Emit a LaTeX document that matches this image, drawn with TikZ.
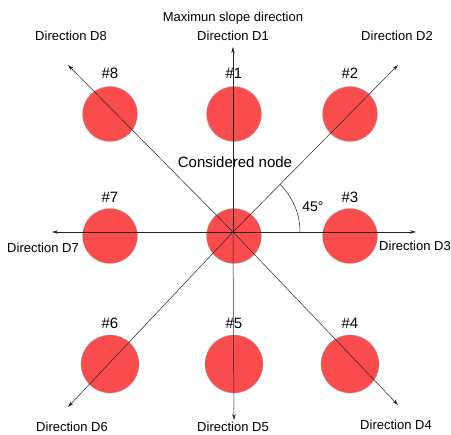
\documentclass[tikz,border=0pt]{standalone}
\usepackage{fontspec}
\setmainfont{Liberation Sans}
\usetikzlibrary{arrows.meta}
\definecolor{nodered}{RGB}{250,76,76}
\begin{document}
\begin{tikzpicture}[x=1pt,y=-1pt,
  cell/.style={circle,fill=nodered,draw=gray!70,line width=0.3pt,minimum size=55pt,inner sep=0pt},
  num/.style={font=\fontsize{15}{15}\selectfont},
  dirlab/.style={font=\fontsize{13}{13}\selectfont,inner sep=0pt},
  ray/.style={-{Stealth[length=6pt,width=3.5pt]},line width=0.5pt,draw=black!85}]
\useasboundingbox (0,0) rectangle (451,435);
% cells
\node[cell] (c8) at (110,114) {};
\node[cell] (c1) at (234,114) {};
\node[cell] (c2) at (350,114) {};
\node[cell] (c7) at (110,236) {};
\node[cell] (c0) at (234,236) {};
\node[cell] (c3) at (350,236) {};
\node[cell,minimum height=58pt] (c6) at (110,364) {};
\node[cell,minimum height=58pt] (c5) at (234,364) {};
\node[cell,minimum height=58pt] (c4) at (350,364) {};
% centre and tips
\coordinate (o) at (233,232);
\coordinate (t1) at (233,47);
\coordinate (t2) at (398,65);
\coordinate (t3) at (416,232);
\coordinate (t4) at (398,405);
\coordinate (t5) at (234,420);
\coordinate (t6) at (68,407);
\coordinate (t7) at (52,232);
\coordinate (t8) at (68,65);
\foreach \i in {1,...,8} \draw[ray] (o) -- (t\i);
% angle
\draw[line width=0.5pt,draw=black!85] ([shift={(0:67)}]o) arc[start angle=0,end angle=-45,radius=67];
\node[font=\fontsize{14}{14}\selectfont] (ang) at (313,207) {45°};
% numbers
\node[num] (n8) at (110,73) {\#8};
\node[num] (n1) at (234,73) {\#1};
\node[num] (n2) at (350,73) {\#2};
\node[num] (n7) at (110,197) {\#7};
\node[num] (n3) at (350,197) {\#3};
\node[num] (n6) at (110,323) {\#6};
\node[num] (n5) at (234,323) {\#5};
\node[num] (n4) at (350,323) {\#4};
\node[font=\fontsize{15}{15}\selectfont] (cn) at (235,162) {Considered node};
% direction labels
\node[dirlab] (max) at (233,18) {Maximun slope direction};
\node[dirlab] (d8) at (71,36) {Direction D8};
\node[dirlab] (d1) at (233,36) {Direction D1};
\node[dirlab] (d2) at (397,36) {Direction D2};
\node[dirlab] (d7) at (43,248) {Direction D7};
\node[dirlab] (d3) at (415,246) {Direction D3};
\node[dirlab] (d6) at (72,427) {Direction D6};
\node[dirlab] (d5) at (233,427) {Direction D5};
\node[dirlab] (d4) at (396,425) {Direction D4};
\end{tikzpicture}
\end{document}
